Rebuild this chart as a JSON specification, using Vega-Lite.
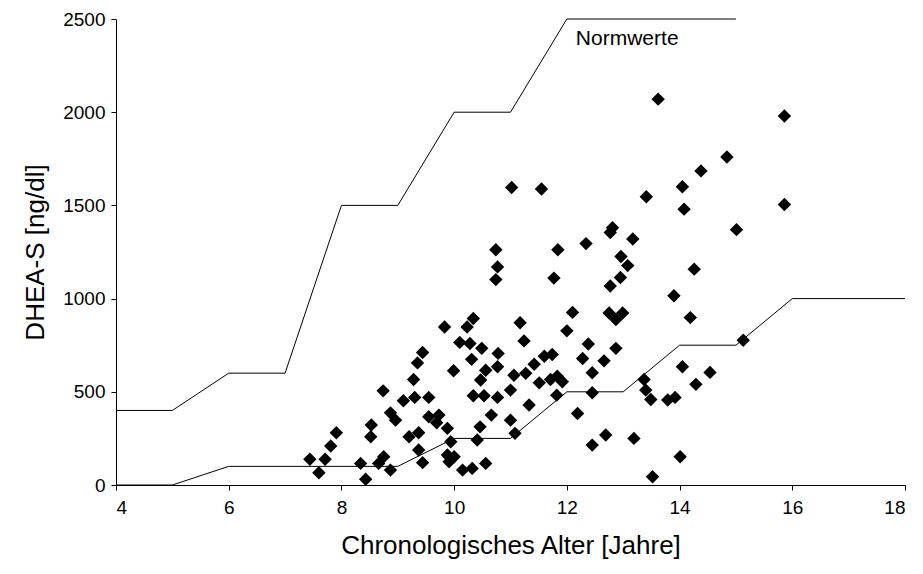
{
  "$schema": "https://vega.github.io/schema/vega-lite/v6.json",
  "width": 789,
  "height": 466,
  "autosize": "none",
  "padding": {"left": 116, "top": 19, "right": 18, "bottom": 89},
  "background": "white",
  "config": {
    "view": {"stroke": null},
    "font": "Liberation Sans",
    "axis": {
      "grid": false,
      "domainColor": "#000",
      "tickColor": "#000",
      "tickSize": 5,
      "labelColor": "#000",
      "titleColor": "#000",
      "labelFont": "Liberation Sans",
      "titleFont": "Liberation Sans",
      "labelFontSize": 19,
      "titleFontSize": 26,
      "titleFontWeight": "normal",
      "domainWidth": 1,
      "tickWidth": 1
    }
  },
  "datasets": {
    "pts": [
      {"age": 9.83, "dhea": 848}, {"age": 10.34, "dhea": 893}, {"age": 10.23, "dhea": 848},
      {"age": 11.17, "dhea": 870}, {"age": 11.24, "dhea": 773}, {"age": 10.10, "dhea": 765},
      {"age": 10.28, "dhea": 759}, {"age": 10.49, "dhea": 733}, {"age": 9.44, "dhea": 711},
      {"age": 9.35, "dhea": 655}, {"age": 10.78, "dhea": 706}, {"age": 10.31, "dhea": 674},
      {"age": 10.77, "dhea": 634}, {"age": 10.56, "dhea": 616}, {"age": 9.99, "dhea": 613},
      {"age": 10.47, "dhea": 563}, {"age": 11.06, "dhea": 589}, {"age": 11.27, "dhea": 599},
      {"age": 9.28, "dhea": 566}, {"age": 8.74, "dhea": 505}, {"age": 11.00, "dhea": 509},
      {"age": 9.10, "dhea": 452}, {"age": 9.30, "dhea": 470}, {"age": 9.55, "dhea": 470},
      {"age": 10.34, "dhea": 479}, {"age": 10.53, "dhea": 479}, {"age": 10.77, "dhea": 470},
      {"age": 11.33, "dhea": 429}, {"age": 8.87, "dhea": 387}, {"age": 8.96, "dhea": 348},
      {"age": 9.55, "dhea": 366}, {"age": 9.73, "dhea": 375}, {"age": 9.69, "dhea": 334},
      {"age": 10.66, "dhea": 375}, {"age": 11.00, "dhea": 348}, {"age": 7.91, "dhea": 280},
      {"age": 7.81, "dhea": 209}, {"age": 8.53, "dhea": 322}, {"age": 8.52, "dhea": 259},
      {"age": 9.20, "dhea": 259}, {"age": 9.37, "dhea": 280}, {"age": 9.88, "dhea": 304},
      {"age": 9.94, "dhea": 232}, {"age": 10.46, "dhea": 312}, {"age": 10.41, "dhea": 241},
      {"age": 11.08, "dhea": 277}, {"age": 7.44, "dhea": 138}, {"age": 7.71, "dhea": 138},
      {"age": 7.60, "dhea": 66}, {"age": 8.34, "dhea": 116}, {"age": 8.43, "dhea": 31},
      {"age": 8.75, "dhea": 152}, {"age": 8.66, "dhea": 116}, {"age": 8.87, "dhea": 80},
      {"age": 9.37, "dhea": 188}, {"age": 9.44, "dhea": 120}, {"age": 9.88, "dhea": 161},
      {"age": 10.00, "dhea": 152}, {"age": 9.91, "dhea": 125}, {"age": 10.15, "dhea": 80},
      {"age": 10.32, "dhea": 89}, {"age": 10.56, "dhea": 116},
      {"age": 11.02, "dhea": 1596}, {"age": 11.55, "dhea": 1588}, {"age": 13.41, "dhea": 1546},
      {"age": 14.05, "dhea": 1600}, {"age": 14.08, "dhea": 1480}, {"age": 14.38, "dhea": 1685},
      {"age": 10.74, "dhea": 1262}, {"age": 10.77, "dhea": 1170}, {"age": 10.74, "dhea": 1102},
      {"age": 11.84, "dhea": 1262}, {"age": 12.34, "dhea": 1295}, {"age": 12.81, "dhea": 1380},
      {"age": 12.77, "dhea": 1355}, {"age": 13.17, "dhea": 1320}, {"age": 11.77, "dhea": 1110},
      {"age": 12.96, "dhea": 1226}, {"age": 13.08, "dhea": 1177}, {"age": 12.95, "dhea": 1113},
      {"age": 12.77, "dhea": 1068}, {"age": 14.26, "dhea": 1158}, {"age": 13.90, "dhea": 1015},
      {"age": 14.19, "dhea": 898}, {"age": 12.10, "dhea": 926}, {"age": 12.00, "dhea": 827},
      {"age": 12.75, "dhea": 923}, {"age": 12.99, "dhea": 923}, {"age": 12.87, "dhea": 888},
      {"age": 11.60, "dhea": 691}, {"age": 11.74, "dhea": 700}, {"age": 11.42, "dhea": 648},
      {"age": 12.38, "dhea": 756}, {"age": 12.28, "dhea": 679}, {"age": 12.66, "dhea": 666},
      {"age": 12.87, "dhea": 733}, {"age": 12.45, "dhea": 602}, {"age": 11.51, "dhea": 548},
      {"age": 11.71, "dhea": 566}, {"age": 11.83, "dhea": 584}, {"age": 11.92, "dhea": 554},
      {"age": 11.82, "dhea": 482}, {"age": 12.45, "dhea": 495}, {"age": 12.19, "dhea": 384},
      {"age": 14.05, "dhea": 634}, {"age": 14.29, "dhea": 540}, {"age": 13.37, "dhea": 566},
      {"age": 13.40, "dhea": 509}, {"age": 13.49, "dhea": 459}, {"age": 13.79, "dhea": 456},
      {"age": 13.92, "dhea": 470}, {"age": 12.45, "dhea": 214}, {"age": 12.69, "dhea": 268},
      {"age": 13.19, "dhea": 250}, {"age": 14.01, "dhea": 152}, {"age": 13.52, "dhea": 44},
      {"age": 13.62, "dhea": 2070}, {"age": 15.86, "dhea": 1980}, {"age": 14.84, "dhea": 1760},
      {"age": 15.86, "dhea": 1505}, {"age": 15.01, "dhea": 1370}, {"age": 15.13, "dhea": 777},
      {"age": 14.54, "dhea": 604}
    ],
    "norm": [
      {"line": "oben", "age": 4, "dhea": 400}, {"line": "oben", "age": 5, "dhea": 400},
      {"line": "oben", "age": 6, "dhea": 600}, {"line": "oben", "age": 7, "dhea": 600},
      {"line": "oben", "age": 8, "dhea": 1500}, {"line": "oben", "age": 9, "dhea": 1500},
      {"line": "oben", "age": 10, "dhea": 2000}, {"line": "oben", "age": 11, "dhea": 2000},
      {"line": "oben", "age": 12, "dhea": 2500}, {"line": "oben", "age": 15, "dhea": 2500},
      {"line": "unten", "age": 4, "dhea": 0}, {"line": "unten", "age": 5, "dhea": 0},
      {"line": "unten", "age": 6, "dhea": 100}, {"line": "unten", "age": 9, "dhea": 100},
      {"line": "unten", "age": 10, "dhea": 250}, {"line": "unten", "age": 11, "dhea": 250},
      {"line": "unten", "age": 12, "dhea": 500}, {"line": "unten", "age": 13, "dhea": 500},
      {"line": "unten", "age": 14, "dhea": 750}, {"line": "unten", "age": 15, "dhea": 750},
      {"line": "unten", "age": 16, "dhea": 1000}, {"line": "unten", "age": 18, "dhea": 1000}
    ],
    "label": [{"age": 12.16, "dhea": 2395, "text": "Normwerte"}]
  },
  "layer": [
    {
      "data": {"name": "norm"},
      "mark": {"type": "line", "color": "#000", "strokeWidth": 1},
      "encoding": {
        "x": {"field": "age", "type": "quantitative", "scale": {"domain": [4, 18], "nice": false},
              "axis": {"values": [4, 6, 8, 10, 12, 14, 16, 18], "format": "d", "title": "Chronologisches Alter [Jahre]", "labelPadding": 8, "titlePadding": 15}},
        "y": {"field": "dhea", "type": "quantitative", "scale": {"domain": [0, 2500], "nice": false},
              "axis": {"values": [0, 500, 1000, 1500, 2000, 2500], "format": "d", "title": "DHEA-S [ng/dl]", "labelPadding": 6, "titlePadding": 14}},
        "detail": {"field": "line"}
      }
    },
    {
      "data": {"name": "pts"},
      "mark": {"type": "point", "shape": "diamond", "filled": true, "color": "#000", "size": 180, "opacity": 1},
      "encoding": {
        "x": {"field": "age", "type": "quantitative"},
        "y": {"field": "dhea", "type": "quantitative"}
      }
    },
    {
      "data": {"name": "label"},
      "mark": {"type": "text", "align": "left", "baseline": "middle", "fontSize": 21, "color": "#000", "font": "Liberation Sans"},
      "encoding": {
        "x": {"field": "age", "type": "quantitative"},
        "y": {"field": "dhea", "type": "quantitative"},
        "text": {"field": "text"}
      }
    }
  ]
}
